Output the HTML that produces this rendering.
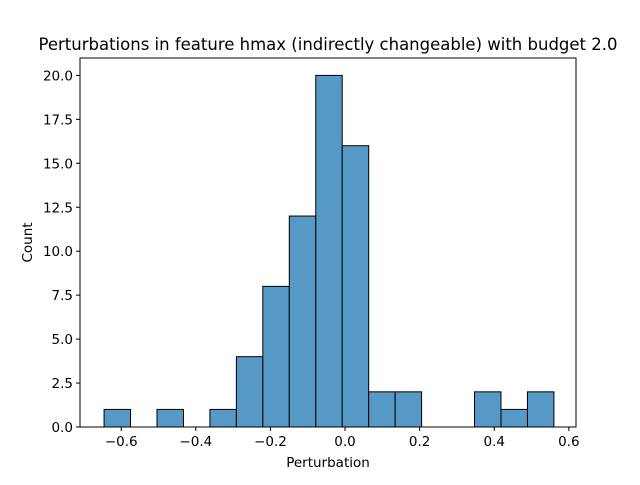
<!DOCTYPE html>
<html><head><meta charset="utf-8"><style>
body{margin:0;background:#fff;font-family:"Liberation Sans","DejaVu Sans",sans-serif}
svg text{font-family:"DejaVu Sans","Liberation Sans",sans-serif}
</style></head><body>
<svg id="chart" width="640" height="480" xmlns="http://www.w3.org/2000/svg">
<rect width="640" height="480" fill="#fff"/>
<g id="plot"></g>
</svg>
<script>
const binStart = -0.646;
const binEnd = 0.560;
const counts = [1,0,1,0,1,4,8,12,20,16,2,2,0,0,2,1,2];
const xTicks = [-0.6,-0.4,-0.2,0.0,0.2,0.4,0.6];
const xTickLabels = ["−0.6","−0.4","−0.2","0.0","0.2","0.4","0.6"];
const yTicks = [0,2.5,5,7.5,10,12.5,15,17.5,20];
const yTickLabels = ["0.0","2.5","5.0","7.5","10.0","12.5","15.0","17.5","20.0"];

const L=80,R=576,T=58,B=427;
const xMin=-0.7105,xMax=0.6192,yMax=20.99;
const xs=v=>L+(v-xMin)/(xMax-xMin)*(R-L);
const ys=v=>B-v/yMax*(B-T);
const NS="http://www.w3.org/2000/svg";
const g=document.getElementById('plot');
function mk(tag,attrs,txt){const e=document.createElementNS(NS,tag);for(const k in attrs)e.setAttribute(k,attrs[k]);if(txt!==undefined)e.textContent=txt;g.appendChild(e);return e;}
const w=(binEnd-binStart)/counts.length;
counts.forEach((c,i)=>{
  if(c<=0)return;
  const x0=xs(binStart+i*w),x1=xs(binStart+(i+1)*w);
  const r=mk('rect',{x:x0,y:ys(c),width:x1-x0,height:ys(0)-ys(c),fill:'#5799c6',stroke:'#000','stroke-width':1});
  
  
});
mk('rect',{x:L,y:T,width:R-L,height:B-T,fill:'none',stroke:'#000','stroke-width':1});
xTicks.forEach((v,i)=>{
  const x=xs(v);
  mk('line',{x1:x,x2:x,y1:B,y2:B+4,stroke:'#000'});
  const t=mk('text',{x:x,y:B+19,'text-anchor':'middle','font-size':13.5},xTickLabels[i]);
  
  
});
yTicks.forEach((v,i)=>{
  const y=ys(v);
  mk('line',{x1:L-4,x2:L,y1:y,y2:y,stroke:'#000'});
  const t=mk('text',{x:L-7,y:y+5,'text-anchor':'end','font-size':13.5},yTickLabels[i]);
  
  
});
let t=mk('text',{x:(L+R)/2,y:467,'text-anchor':'middle','font-size':13.5},'Perturbation');


t=mk('text',{x:32,y:(T+B)/2,'text-anchor':'middle','font-size':13.5,transform:`rotate(-90 32 ${(T+B)/2})`},'Count');


t=mk('text',{x:(L+R)/2,y:50,'text-anchor':'middle','font-size':16.5},'Perturbations in feature hmax (indirectly changeable) with budget 2.0');


</script>
</body></html>
